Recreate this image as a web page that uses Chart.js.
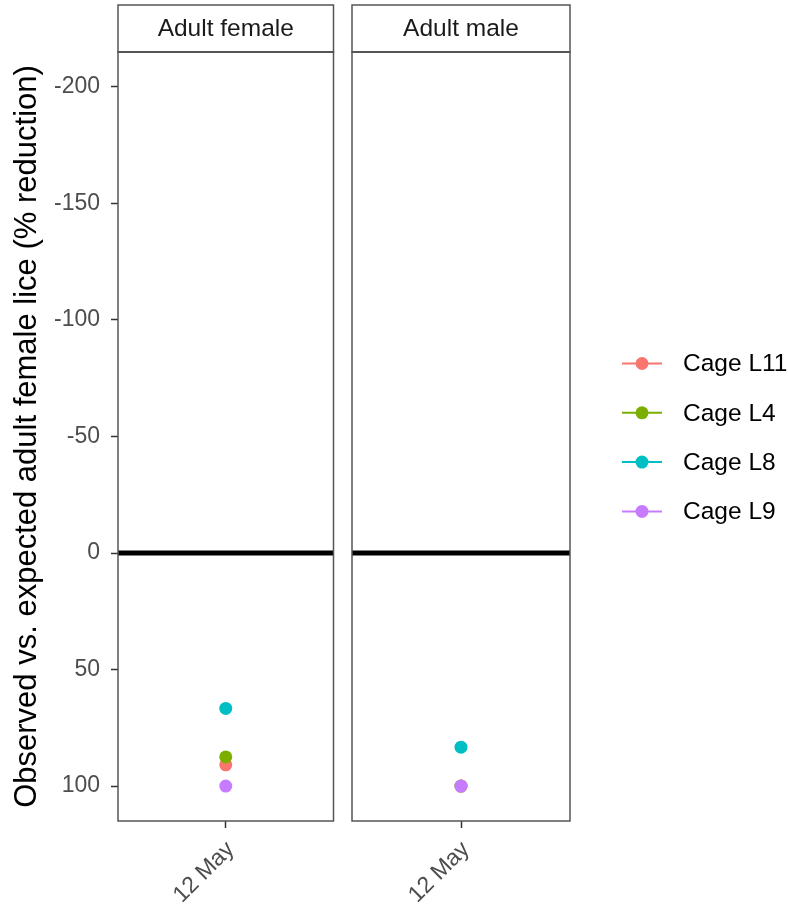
<!DOCTYPE html>
<html>
<head>
<meta charset="utf-8">
<script src="https://cdn.jsdelivr.net/npm/chart.js@4/dist/chart.umd.min.js"></script>
<style>
  html, body { margin: 0; padding: 0; background: #ffffff; }
  #wrap { position: relative; width: 788px; height: 907px; }
  canvas { position: absolute; top: 0; }
  #female { left: 0; }
  #male { left: 340px; }
</style>
</head>
<body>
<div id="wrap">
  <canvas id="female" width="340" height="907"></canvas>
  <canvas id="male" width="448" height="907"></canvas>
</div>
<script>
// Sampling dates and facet panels
const dates = ['12 May'];
const panels = ['Adult female', 'Adult male'];

// Cages and their colours
const cages = ['Cage L11', 'Cage L4', 'Cage L8', 'Cage L9'];
const cageColors = ['#F8766D', '#7CAE00', '#00BFC4', '#C77CFF'];

// Observed vs. expected reduction (%) per cage, one value per date
const femaleL11 = [90.9];
const femaleL4 = [87.5];
const femaleL8 = [66.7];
const femaleL9 = [100];
const maleL11 = [100];
const maleL4 = [100];
const maleL8 = [83.3];
const maleL9 = [100];

// Y axis ticks and limits (axis is reversed)
const yTicks = [-200, -150, -100, -50, 0, 50, 100];
const yMin = -215;
const yMax = 115;
const referenceLine = 0;

const yTitle = 'Observed vs. expected adult female lice (% reduction)';
const FONT = '"Liberation Sans", Arial, sans-serif';
const FRAME = '#555555';
const TICK_TEXT = '#4d4d4d';

function makeDatasets(series) {
  return series.map((values, i) => ({
    label: cages[i],
    data: values,
    order: -i, // later cages are drawn on top
    borderColor: cageColors[i],
    backgroundColor: cageColors[i],
    borderWidth: 2,
    pointRadius: 6.5,
    pointHoverRadius: 6.5,
    pointBorderWidth: 0,
    showLine: true
  }));
}

// Strip header, panel frame and the zero reference line
const facetPlugin = {
  id: 'facet',
  beforeDatasetsDraw(chart) {
    const { ctx, chartArea: a } = chart;
    const y0 = chart.scales.y.getPixelForValue(referenceLine);
    ctx.save();
    ctx.strokeStyle = '#000000';
    ctx.lineWidth = 5;
    ctx.beginPath();
    ctx.moveTo(a.left, y0);
    ctx.lineTo(a.right, y0);
    ctx.stroke();
    ctx.restore();
  },
  afterDraw(chart, args, opts) {
    const { ctx, chartArea: a } = chart;
    ctx.save();
    ctx.strokeStyle = FRAME;
    ctx.lineWidth = 1.5;
    // strip
    ctx.strokeRect(a.left, 5, a.right - a.left, a.top - 5);
    ctx.fillStyle = '#1a1a1a';
    ctx.font = '24.5px ' + FONT;
    ctx.textAlign = 'center';
    ctx.textBaseline = 'middle';
    ctx.fillText(opts.strip, (a.left + a.right) / 2, (5 + a.top) / 2 + 1);
    // panel
    ctx.strokeRect(a.left, a.top, a.right - a.left, a.bottom - a.top);
    ctx.lineWidth = 2;
    ctx.beginPath();
    ctx.moveTo(a.left, a.top);
    ctx.lineTo(a.right, a.top);
    ctx.stroke();
    ctx.restore();
  }
};

// Legend with line-and-point keys, drawn to the right of the last panel
const keyLegendPlugin = {
  id: 'keyLegend',
  afterDraw(chart, args, opts) {
    if (!opts.show) return;
    const { ctx } = chart;
    ctx.save();
    chart.data.datasets.forEach((ds, i) => {
      const y = opts.top + i * opts.step;
      ctx.strokeStyle = ds.borderColor;
      ctx.lineWidth = 2;
      ctx.beginPath();
      ctx.moveTo(opts.x, y);
      ctx.lineTo(opts.x + 40, y);
      ctx.stroke();
      ctx.fillStyle = ds.backgroundColor;
      ctx.beginPath();
      ctx.arc(opts.x + 20, y, 6.5, 0, Math.PI * 2);
      ctx.fill();
      ctx.fillStyle = '#000000';
      ctx.font = '24.5px ' + FONT;
      ctx.textAlign = 'left';
      ctx.textBaseline = 'middle';
      ctx.fillText(ds.label, opts.x + 61, y + 1);
    });
    ctx.restore();
  }
};

function panelOptions(strip, showY, padding, legend) {
  return {
    responsive: false,
    animation: false,
    devicePixelRatio: 1,
    layout: { padding },
    plugins: {
      legend: { display: false },
      tooltip: { enabled: false },
      facet: { strip },
      keyLegend: legend
    },
    scales: {
      x: {
        type: 'category',
        labels: dates,
        offset: true,
        afterFit(scale) { scale.height = 86; },
        border: { display: false },
        grid: {
          drawOnChartArea: false,
          drawTicks: true,
          tickLength: 7,
          tickColor: '#333333',
          tickWidth: 1.5,
          offset: false
        },
        ticks: {
          color: TICK_TEXT,
          font: { family: FONT, size: 23 },
          maxRotation: 45,
          minRotation: 45,
          padding: 8,
          labelOffset: 5
        }
      },
      y: {
        display: showY,
        reverse: true,
        min: yMin,
        max: yMax,
        afterBuildTicks(scale) { scale.ticks = yTicks.map(v => ({ value: v })); },
        afterFit(scale) { if (showY) scale.width = 118; },
        border: { display: false },
        grid: {
          drawOnChartArea: false,
          drawTicks: true,
          tickLength: 7,
          tickColor: '#333333',
          tickWidth: 1.5
        },
        ticks: {
          color: TICK_TEXT,
          font: { family: FONT, size: 23 },
          padding: 11,
          callback: v => String(v)
        },
        title: {
          display: showY,
          text: yTitle,
          color: '#000000',
          font: { family: FONT, size: 31 },
          padding: { top: 9, bottom: 0 }
        }
      }
    }
  };
}

new Chart(document.getElementById('female'), {
  type: 'line',
  data: {
    labels: dates,
    datasets: makeDatasets([femaleL11, femaleL4, femaleL8, femaleL9])
  },
  options: panelOptions(panels[0], true, { left: 0, right: 4, top: 52, bottom: 0 }, { show: false }),
  plugins: [facetPlugin, keyLegendPlugin]
});

new Chart(document.getElementById('male'), {
  type: 'line',
  data: {
    labels: dates,
    datasets: makeDatasets([maleL11, maleL4, maleL8, maleL9])
  },
  options: panelOptions(panels[1], false, { left: 12, right: 218, top: 52, bottom: 0 },
    { show: true, x: 282, top: 363.5, step: 49.3 }),
  plugins: [facetPlugin, keyLegendPlugin]
});
</script>
</body>
</html>
